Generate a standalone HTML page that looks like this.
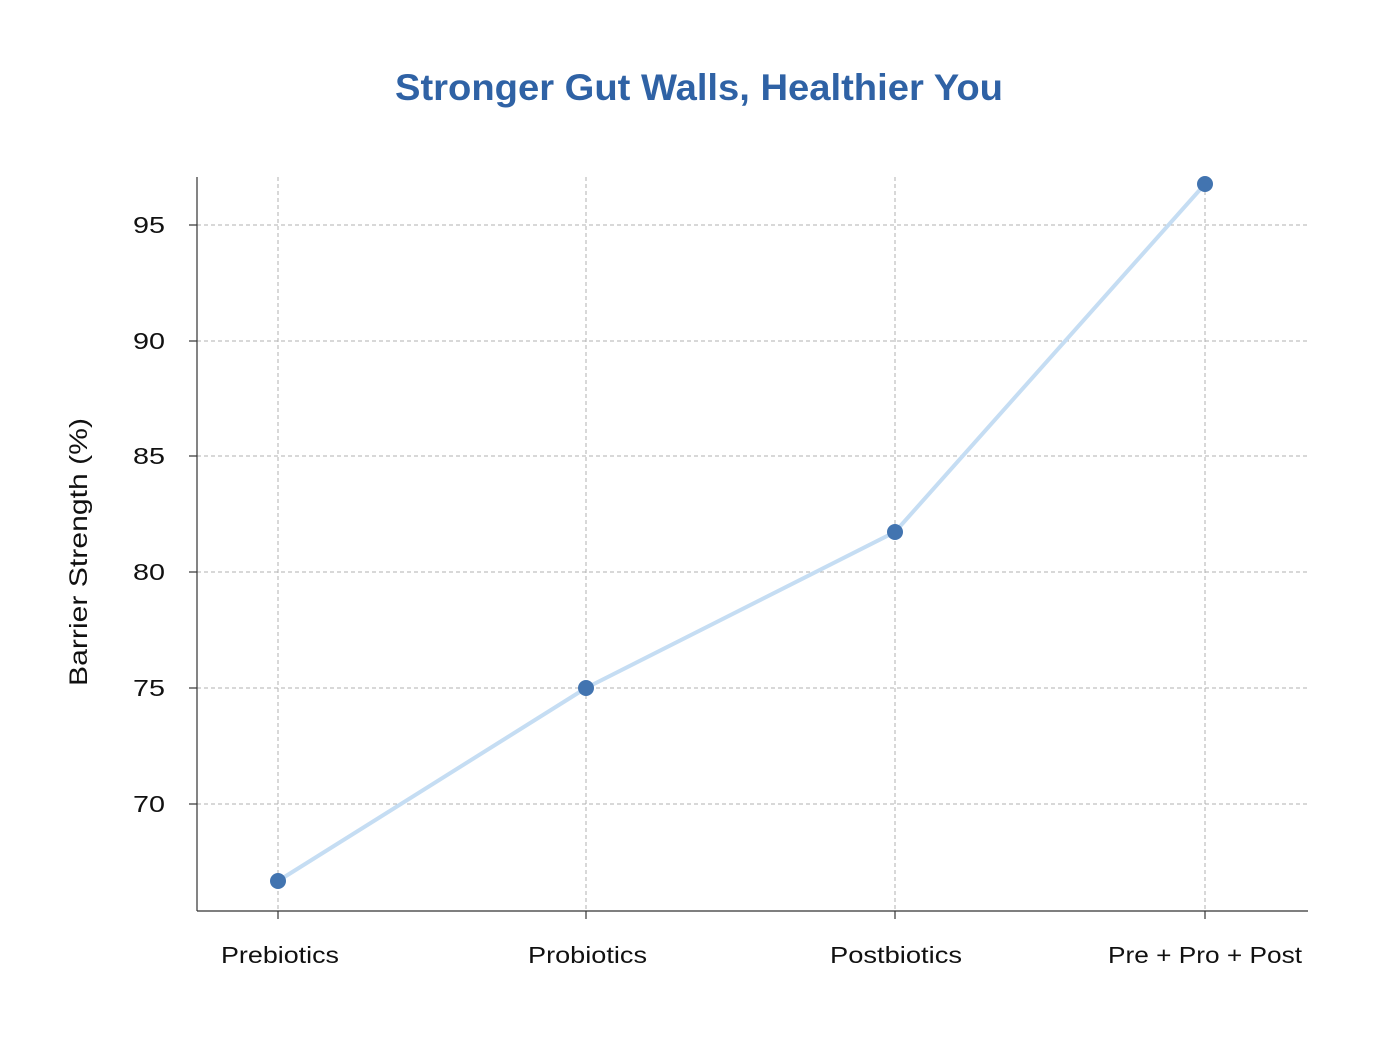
<!DOCTYPE html>
<html><head><style>body{margin:0;background:#fff}svg{display:block}text{font-family:"Liberation Sans",sans-serif}</style></head>
<body>
<svg width="1396" height="1044" viewBox="0 0 1396 1044">
<rect width="1396" height="1044" fill="#fff"/>
<text x="395" y="100" textLength="608" lengthAdjust="spacingAndGlyphs" font-size="37" font-weight="bold" fill="#2f62a5">Stronger Gut Walls, Healthier You</text>
<g stroke="#b0b0b0" stroke-width="1" stroke-dasharray="4,3">
<line x1="197" x2="1308" y1="225" y2="225"/><line x1="197" x2="1308" y1="341" y2="341"/>
<line x1="197" x2="1308" y1="456" y2="456"/><line x1="197" x2="1308" y1="572" y2="572"/>
<line x1="197" x2="1308" y1="688" y2="688"/><line x1="197" x2="1308" y1="804" y2="804"/>
<line x1="278" x2="278" y1="177" y2="911"/><line x1="586" x2="586" y1="177" y2="911"/>
<line x1="895" x2="895" y1="177" y2="911"/><line x1="1205" x2="1205" y1="177" y2="911"/>
</g>
<g stroke="#333" stroke-width="1.2">
<line x1="197" x2="197" y1="177" y2="911"/><line x1="197" x2="1308" y1="911" y2="911"/>
<line x1="189" x2="197" y1="225" y2="225"/><line x1="189" x2="197" y1="341" y2="341"/>
<line x1="189" x2="197" y1="456" y2="456"/><line x1="189" x2="197" y1="572" y2="572"/>
<line x1="189" x2="197" y1="688" y2="688"/><line x1="189" x2="197" y1="804" y2="804"/>
<line x1="278" x2="278" y1="911" y2="919"/><line x1="586" x2="586" y1="911" y2="919"/>
<line x1="895" x2="895" y1="911" y2="919"/><line x1="1205" x2="1205" y1="911" y2="919"/>
</g>
<g font-size="23" fill="#111">
<text x="133" y="233" textLength="32" lengthAdjust="spacingAndGlyphs">95</text>
<text x="133" y="349" textLength="32" lengthAdjust="spacingAndGlyphs">90</text>
<text x="133" y="464" textLength="32" lengthAdjust="spacingAndGlyphs">85</text>
<text x="133" y="580" textLength="32" lengthAdjust="spacingAndGlyphs">80</text>
<text x="133" y="696" textLength="32" lengthAdjust="spacingAndGlyphs">75</text>
<text x="133" y="812" textLength="32" lengthAdjust="spacingAndGlyphs">70</text>
</g>
<g font-size="23" fill="#111">
<text x="221" y="963" textLength="118" lengthAdjust="spacingAndGlyphs">Prebiotics</text>
<text x="528" y="963" textLength="119" lengthAdjust="spacingAndGlyphs">Probiotics</text>
<text x="830" y="963" textLength="132" lengthAdjust="spacingAndGlyphs">Postbiotics</text>
<text x="1108" y="963" textLength="194" lengthAdjust="spacingAndGlyphs">Pre + Pro + Post</text>
</g>
<text transform="translate(87,686) rotate(-90)" textLength="268" lengthAdjust="spacingAndGlyphs" font-size="25" fill="#111">Barrier Strength (%)</text>
<polyline points="278,881 586,688 895,532 1205,184" fill="none" stroke="#c5ddf3" stroke-width="4" stroke-linejoin="round"/>
<g fill="#4274b0">
<circle cx="278" cy="881" r="8"/><circle cx="586" cy="688" r="8"/><circle cx="895" cy="532" r="8"/><circle cx="1205" cy="184" r="8"/>
</g>
</svg>
</body></html>
